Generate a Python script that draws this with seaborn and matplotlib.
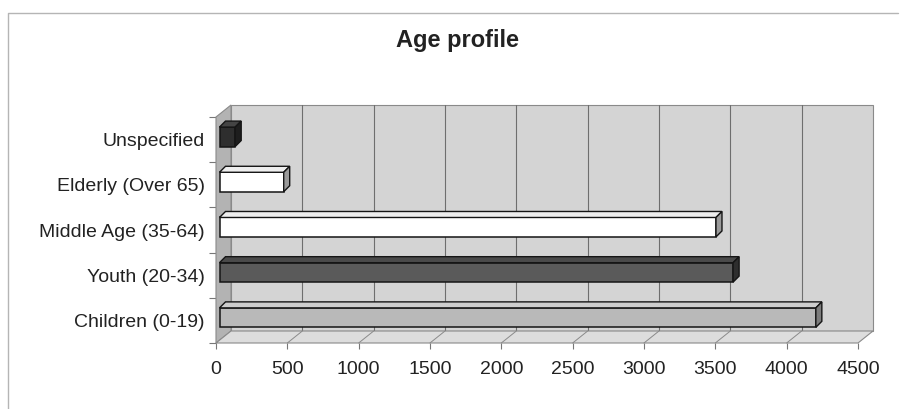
import numpy as np
import pandas as pd
import matplotlib
matplotlib.use("Agg")
import matplotlib.pyplot as plt
import seaborn as sns
from matplotlib.patches import Polygon, Rectangle
from matplotlib.lines import Line2D
from matplotlib.transforms import ScaledTranslation, blended_transform_factory
from matplotlib.ticker import FixedLocator

# ---- data ----
categories = ["Unspecified", "Elderly (Over 65)", "Middle Age (35-64)",
              "Youth (20-34)", "Children (0-19)"]
values = [110, 450, 3480, 3600, 4180]
x_ticks = [0, 500, 1000, 1500, 2000, 2500, 3000, 3500, 4000, 4500]
title = "Age profile"

front_colors = ["#2e2e2e", "#ffffff", "#ffffff", "#5a5a5a", "#b9b9b9"]
top_colors = ["#444444", "#eeeeee", "#eeeeee", "#4a4a4a", "#cdcdcd"]
side_colors = ["#1e1e1e", "#9a9a9a", "#9a9a9a", "#2e2e2e", "#7c7c7c"]

sns.set_theme(style="white")
plt.rcParams["font.family"] = ["Liberation Sans", "DejaVu Sans"]

W, H = 901, 409
fig = plt.figure(figsize=(W / 100, H / 100), dpi=100)
fig.patch.set_facecolor("white")
ax = fig.add_axes([216 / W, 66 / H, 642 / W, 226 / H])

df = pd.DataFrame({"category": categories, "value": values})

# wall depth and bar depth in pixels
DX, DY = 15, 12
BX, BY = 6, 6
SHIFT = 3.5  # bars sit slightly behind the front plane

ax.set_xlim(x_ticks[0], x_ticks[-1])

sns.barplot(data=df, x="value", y="category", hue="category",
            palette=front_colors, legend=False, orient="h", width=0.43,
            edgecolor="#151515", linewidth=1.1, ax=ax, zorder=3)
ax.set_xlim(x_ticks[0], x_ticks[-1])
ax.set_ylim(len(categories) - 0.5, -0.5)

ax.patch.set_visible(False)
for s in ax.spines.values():
    s.set_visible(False)
ax.grid(False)
ax.set_xlabel("")
ax.set_ylabel("")

axw = ax.bbox.width
axh = ax.bbox.height
dxa, dya = DX / axw, DY / axh
T_back = ScaledTranslation(DX / 100, DY / 100, fig.dpi_scale_trans)
blend = blended_transform_factory(ax.transData, ax.transAxes)

# back wall
ax.add_patch(Rectangle((0, 0), 1, 1, transform=ax.transAxes + T_back,
                       facecolor="#d4d4d4", edgecolor="#8a8a8a", lw=0.8,
                       clip_on=False, zorder=0.5))
# gridlines on back wall
for xt in x_ticks[1:-1]:
    ax.plot([xt, xt], [0, 1], transform=blend + T_back, color="#6e6e6e",
            lw=0.8, clip_on=False, zorder=0.6)
# left wall
ax.add_patch(Polygon([(0, 0), (0, 1), (dxa, 1 + dya), (dxa, dya)],
                     closed=True, transform=ax.transAxes, facecolor="#b3b3b3",
                     edgecolor="#8a8a8a", lw=0.8, clip_on=False, zorder=0.7))
# floor
ax.add_patch(Polygon([(0, 0), (1, 0), (1 + dxa, dya), (dxa, dya)],
                     closed=True, transform=ax.transAxes, facecolor="#dddddd",
                     edgecolor="#8a8a8a", lw=0.8, clip_on=False, zorder=0.7))
dx_data = DX / axw * (x_ticks[-1] - x_ticks[0])
for xt in x_ticks[1:-1]:
    ax.plot([xt, xt + dx_data], [0, dya], transform=blend, color="#8a8a8a",
            lw=0.7, clip_on=False, zorder=0.8)


def shifted(x, y, dxp, dyp):
    d = ax.transData.transform((x, y))
    return tuple(ax.transData.inverted().transform(d + np.array([dxp, dyp])))


# 3D faces for bars
T_bar = ScaledTranslation(SHIFT / 100, SHIFT * 0.8 / 100, fig.dpi_scale_trans)
for p in list(ax.patches):
    if not isinstance(p, Rectangle) or p.get_zorder() != 3:
        continue
    x0, y0 = p.get_x(), p.get_y()
    w, h = p.get_width(), p.get_height()
    ytop = min(y0, y0 + h)   # visually top (inverted axis)
    ybot = max(y0, y0 + h)
    x1 = x0 + w
    p.set_transform(ax.transData + T_bar)
    idx = int(round((ytop + ybot) / 2))
    top = [shifted(x0, ytop, 0, 0), shifted(x1, ytop, 0, 0),
           shifted(x1, ytop, BX, BY), shifted(x0, ytop, BX, BY)]
    side = [shifted(x1, ytop, 0, 0), shifted(x1, ybot, 0, 0),
            shifted(x1, ybot, BX, BY), shifted(x1, ytop, BX, BY)]
    ax.add_patch(Polygon(top, closed=True, transform=ax.transData + T_bar,
                         facecolor=top_colors[idx], edgecolor="#151515",
                         lw=1.0, clip_on=False, zorder=3))
    ax.add_patch(Polygon(side, closed=True, transform=ax.transData + T_bar,
                         facecolor=side_colors[idx], edgecolor="#151515",
                         lw=1.0, clip_on=False, zorder=3))

# ticks
ax.set_xticks(x_ticks)
ax.set_xticklabels([str(t) for t in x_ticks])
ax.tick_params(axis="x", bottom=True, length=4, width=0.8, color="#777777",
               pad=9, labelsize=14, labelcolor="#222222")
ax.tick_params(axis="y", which="major", left=True, length=0, pad=8,
               labelsize=14, labelcolor="#222222")
ax.yaxis.set_minor_locator(FixedLocator(np.arange(-0.5, len(categories), 1.0)))
ax.tick_params(axis="y", which="minor", left=True, length=5, width=0.8,
               color="#777777")

# title
fig.text(458 / W, 1 - 40 / H, title, ha="center", va="center", fontsize=17,
         fontweight="bold", color="#222222")

# outer chart border (top and left edges visible)
fig.lines.append(Line2D([8 / W, 8 / W, 898 / W], [0, 1 - 13 / H, 1 - 13 / H],
                        transform=fig.transFigure, color="#b5b5b5", lw=1.0))

fig.savefig("out.png", dpi=100)
